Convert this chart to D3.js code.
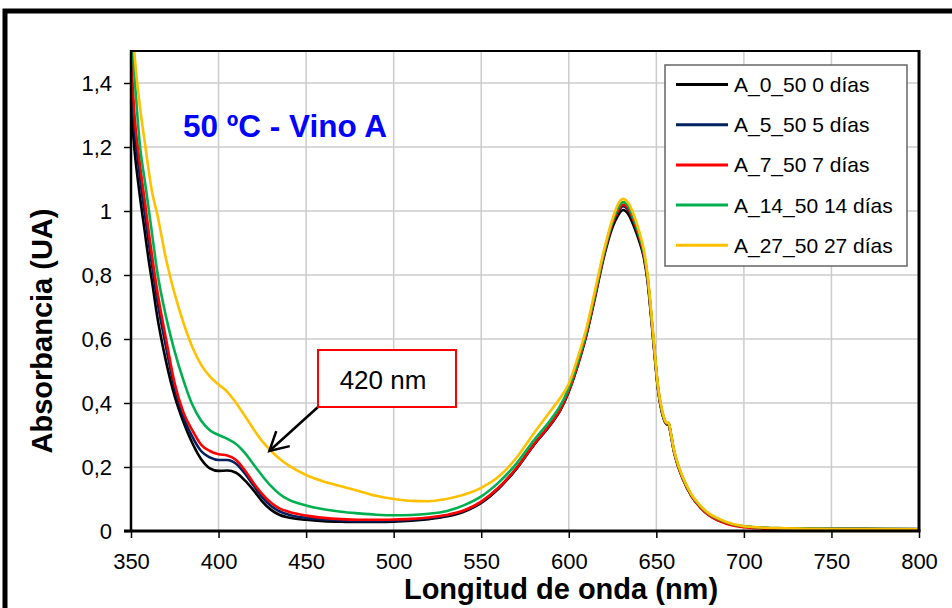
<!DOCTYPE html>
<html>
<head>
<meta charset="utf-8">
<script src="https://cdn.jsdelivr.net/npm/d3@7"></script>
<style>
  html, body { margin: 0; padding: 0; background: #ffffff; }
  svg { display: block; }
  text { font-family: "Liberation Sans", Arial, sans-serif; }
</style>
</head>
<body>
<svg id="chart" width="952" height="608"></svg>
<script>
// ---------------- DATA ----------------
const wavelengths = [350,352,355,358,360,362,365,370,375,380,385,390,395,400,405,410,415,420,425,430,435,440,450,460,470,480,490,500,510,520,530,540,550,560,570,580,590,595,600,605,610,615,620,625,628,631,634,637,640,643,645,647,649,651,653,655,656,657,658,660,662,665,670,675,680,685,690,695,700,710,720,740,760,780,800];

const a0_50 = [1.32,1.19,1.05,0.93,0.85,0.78,0.67,0.53,0.42,0.34,0.275,0.225,0.196,0.188,0.189,0.182,0.158,0.127,0.092,0.066,0.05,0.042,0.035,0.031,0.029,0.028,0.028,0.029,0.032,0.037,0.045,0.06,0.088,0.133,0.193,0.268,0.335,0.375,0.435,0.515,0.61,0.73,0.855,0.95,0.985,1.003,0.99,0.955,0.91,0.85,0.78,0.67,0.55,0.44,0.375,0.34,0.333,0.336,0.31,0.25,0.21,0.165,0.11,0.075,0.05,0.035,0.025,0.018,0.014,0.01,0.008,0.007,0.007,0.006,0.006];

const a5_50 = [1.42,1.26,1.11,0.985,0.905,0.83,0.72,0.575,0.445,0.355,0.295,0.25,0.23,0.222,0.222,0.21,0.18,0.142,0.105,0.078,0.061,0.051,0.041,0.036,0.033,0.031,0.031,0.032,0.035,0.04,0.048,0.063,0.09,0.135,0.195,0.27,0.337,0.378,0.438,0.518,0.614,0.735,0.862,0.96,0.996,1.015,1.002,0.966,0.92,0.858,0.787,0.676,0.555,0.443,0.378,0.342,0.334,0.337,0.311,0.251,0.211,0.166,0.111,0.076,0.051,0.035,0.025,0.018,0.014,0.01,0.008,0.007,0.006,0.006,0.005];

const a7_50 = [1.49,1.30,1.15,1.025,0.94,0.86,0.75,0.60,0.46,0.37,0.315,0.27,0.25,0.24,0.236,0.222,0.19,0.15,0.115,0.088,0.07,0.06,0.048,0.041,0.037,0.035,0.035,0.036,0.038,0.042,0.05,0.064,0.092,0.136,0.196,0.27,0.338,0.378,0.438,0.518,0.614,0.736,0.864,0.963,1.0,1.02,1.007,0.97,0.924,0.861,0.79,0.678,0.556,0.444,0.378,0.342,0.334,0.337,0.311,0.25,0.21,0.165,0.11,0.074,0.049,0.033,0.023,0.016,0.012,0.008,0.006,0.005,0.004,0.004,0.003];

const a14_50 = [1.56,1.42,1.21,1.09,1.01,0.93,0.81,0.67,0.56,0.47,0.395,0.345,0.315,0.3,0.288,0.272,0.244,0.208,0.172,0.14,0.115,0.098,0.08,0.068,0.06,0.055,0.051,0.049,0.05,0.054,0.062,0.08,0.108,0.152,0.21,0.283,0.35,0.39,0.447,0.527,0.622,0.743,0.868,0.968,1.008,1.028,1.015,0.978,0.93,0.866,0.794,0.683,0.56,0.447,0.381,0.343,0.336,0.338,0.313,0.253,0.213,0.168,0.113,0.078,0.053,0.038,0.027,0.019,0.015,0.011,0.009,0.007,0.006,0.006,0.005];

const a27_50 = [1.65,1.49,1.33,1.21,1.13,1.06,0.99,0.85,0.74,0.65,0.575,0.52,0.483,0.458,0.435,0.4,0.36,0.318,0.28,0.25,0.225,0.205,0.175,0.155,0.14,0.125,0.11,0.1,0.094,0.093,0.1,0.113,0.135,0.17,0.228,0.305,0.378,0.415,0.46,0.54,0.632,0.752,0.875,0.975,1.02,1.038,1.025,0.99,0.94,0.875,0.8,0.69,0.565,0.45,0.385,0.345,0.338,0.34,0.315,0.255,0.215,0.17,0.115,0.08,0.055,0.04,0.028,0.02,0.015,0.011,0.009,0.007,0.006,0.006,0.005];

const seriesNames = ["A_0_50 0 días","A_5_50 5 días","A_7_50 7 días","A_14_50 14 días","A_27_50 27 días"];
const seriesColors = ["#000000","#002060","#ff0000","#00b050","#ffc000"];
const seriesValues = [a0_50, a5_50, a7_50, a14_50, a27_50];

const xTicks = [350,400,450,500,550,600,650,700,750,800];
const yTicks = [0,0.2,0.4,0.6,0.8,1,1.2,1.4];
const yTickLabels = ["0","0,2","0,4","0,6","0,8","1","1,2","1,4"];

const chartTitle = "50 ºC - Vino A";
const xTitle = "Longitud de onda (nm)";
const yTitle = "Absorbancia (UA)";
const annotationText = "420 nm";
const annotationTarget = [429, 0.25];

// ---------------- LAYOUT ----------------
const svg = d3.select("#chart");
const plot = {left: 131, right: 919, top: 51, bottom: 531};

const x = d3.scaleLinear().domain([350, 800]).range([plot.left, plot.right]);
const y = d3.scaleLinear().domain([0, 1.5]).range([plot.bottom, plot.top]);

// outer frame
svg.append("rect")
  .attr("x", 5).attr("y", 11).attr("width", 1000).attr("height", 700)
  .attr("fill", "#ffffff").attr("stroke", "#000").attr("stroke-width", 5);

// gridlines
const grid = svg.append("g");
grid.selectAll("line.h").data(yTicks.filter(d => d > 0)).join("line")
  .attr("x1", plot.left).attr("x2", plot.right)
  .attr("y1", d => y(d)).attr("y2", d => y(d))
  .attr("stroke", "#cccccc").attr("stroke-width", 1.5);
grid.selectAll("line.v").data(xTicks.filter(d => d > 350 && d < 800)).join("line")
  .attr("y1", plot.top).attr("y2", plot.bottom)
  .attr("x1", d => x(d)).attr("x2", d => x(d))
  .attr("stroke", "#cccccc").attr("stroke-width", 1.5);

// clip
svg.append("clipPath").attr("id", "plotClip")
  .append("rect").attr("x", plot.left).attr("y", plot.top)
  .attr("width", plot.right - plot.left).attr("height", plot.bottom - plot.top);

// series lines
const line = d3.line()
  .x(d => x(d[0])).y(d => y(d[1]))
  .curve(d3.curveMonotoneX);

const linesG = svg.append("g").attr("clip-path", "url(#plotClip)");
seriesValues.forEach((vals, i) => {
  const pts = wavelengths.map((w, k) => [w, vals[k]]);
  linesG.append("path")
    .attr("d", line(pts))
    .attr("fill", "none")
    .attr("stroke", seriesColors[i])
    .attr("stroke-width", 2.6)
    .attr("stroke-linejoin", "round");
});

// plot borders
svg.append("line").attr("x1", plot.left).attr("x2", plot.right).attr("y1", plot.top).attr("y2", plot.top)
  .attr("stroke", "#000").attr("stroke-width", 2);
svg.append("line").attr("x1", plot.right).attr("x2", plot.right).attr("y1", plot.top - 1).attr("y2", plot.bottom)
  .attr("stroke", "#000").attr("stroke-width", 3);
svg.append("line").attr("x1", plot.left).attr("x2", plot.left).attr("y1", plot.top - 1).attr("y2", plot.bottom)
  .attr("stroke", "#000").attr("stroke-width", 2.5);
svg.append("line").attr("x1", plot.left - 7).attr("x2", plot.right + 1.5).attr("y1", plot.bottom).attr("y2", plot.bottom)
  .attr("stroke", "#000").attr("stroke-width", 3);

// axes
const xAxis = d3.axisBottom(x).tickValues(xTicks).tickSize(7).tickPadding(15).tickFormat(d3.format("d"));
const gx = svg.append("g").attr("transform", `translate(0,${plot.bottom})`).call(xAxis);
gx.select(".domain").remove();
gx.selectAll(".tick line").attr("stroke", "#000").attr("stroke-width", 1.5);
gx.selectAll(".tick text").attr("font-size", 22).attr("fill", "#000")
  .attr("font-family", "'Liberation Sans', Arial, sans-serif");

const yAxis = d3.axisLeft(y).tickValues(yTicks).tickSize(7).tickPadding(12)
  .tickFormat((d, i) => yTickLabels[i]);
const gy = svg.append("g").attr("transform", `translate(${plot.left},0)`).call(yAxis);
gy.select(".domain").remove();
gy.selectAll(".tick line").attr("stroke", "#000").attr("stroke-width", 1.5);
gy.selectAll(".tick text").attr("font-size", 22).attr("fill", "#000")
  .attr("font-family", "'Liberation Sans', Arial, sans-serif");

// axis titles
svg.append("text")
  .attr("x", 561).attr("y", 599)
  .attr("text-anchor", "middle")
  .attr("font-size", 29).attr("font-weight", "bold").attr("fill", "#000")
  .text(xTitle);

svg.append("text")
  .attr("transform", "translate(52,331) rotate(-90)")
  .attr("text-anchor", "middle")
  .attr("font-size", 29).attr("font-weight", "bold").attr("fill", "#000")
  .text(yTitle);

// chart title
svg.append("text")
  .attr("x", 183).attr("y", 137)
  .attr("font-size", 31.5).attr("font-weight", "bold").attr("fill", "#0000ff")
  .text(chartTitle);

// legend
const legend = svg.append("g");
legend.append("rect")
  .attr("x", 665).attr("y", 65).attr("width", 242).attr("height", 201)
  .attr("fill", "#ffffff").attr("stroke", "#666666").attr("stroke-width", 1.5);
seriesNames.forEach((name, i) => {
  const ly = 84.5 + i * 40.2;
  legend.append("line")
    .attr("x1", 676).attr("x2", 728).attr("y1", ly).attr("y2", ly)
    .attr("stroke", seriesColors[i]).attr("stroke-width", 3);
  legend.append("text")
    .attr("x", 734).attr("y", ly + 7.5)
    .attr("font-size", 21).attr("fill", "#000")
    .text(name);
});

// annotation
const ann = svg.append("g");
const tipX = x(annotationTarget[0]), tipY = y(annotationTarget[1]);
const startX = 318, startY = 407;
ann.append("line")
  .attr("x1", startX).attr("y1", startY).attr("x2", tipX).attr("y2", tipY)
  .attr("stroke", "#000").attr("stroke-width", 2.5);
const ang = Math.atan2(tipY - startY, tipX - startX);
const headLen = 21, spread = 0.5;
const p1 = [tipX - headLen * Math.cos(ang - spread), tipY - headLen * Math.sin(ang - spread)];
const p2 = [tipX - headLen * Math.cos(ang + spread), tipY - headLen * Math.sin(ang + spread)];
ann.append("path")
  .attr("d", `M${p1[0]},${p1[1]} L${tipX},${tipY} L${p2[0]},${p2[1]}`)
  .attr("fill", "none").attr("stroke", "#000").attr("stroke-width", 2.5);
ann.append("rect")
  .attr("x", 318).attr("y", 350).attr("width", 138).attr("height", 57)
  .attr("fill", "#ffffff").attr("stroke", "#ff0000").attr("stroke-width", 2);
ann.append("text")
  .attr("x", 383).attr("y", 389)
  .attr("text-anchor", "middle")
  .attr("font-size", 26).attr("fill", "#000")
  .text(annotationText);
</script>
</body>
</html>
